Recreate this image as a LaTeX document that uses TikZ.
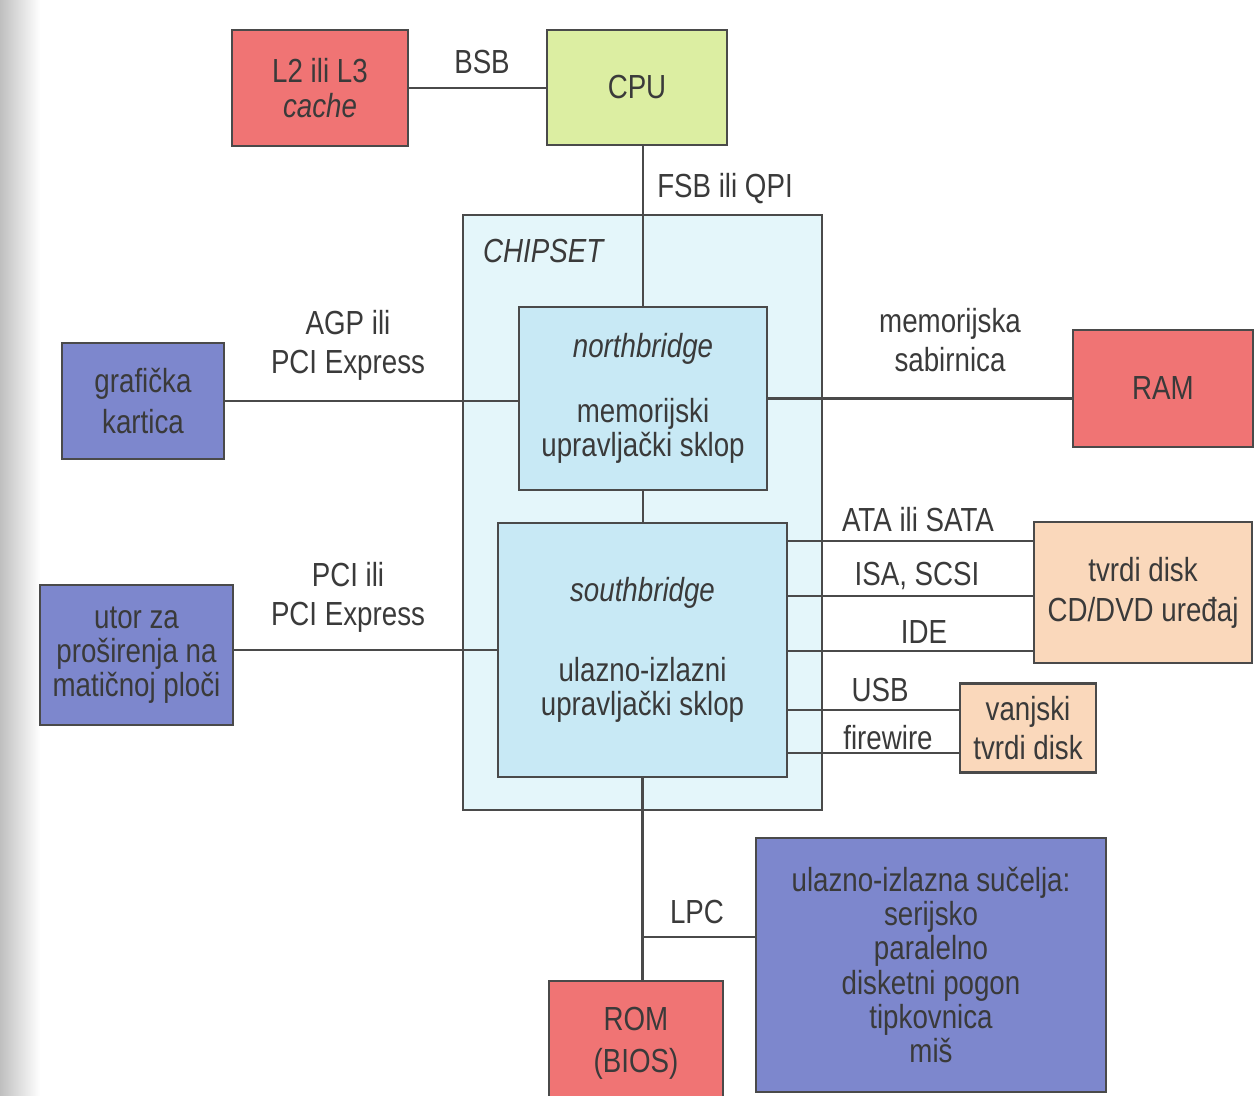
\documentclass[tikz,border=0pt]{standalone}
\usepackage{fontspec}
\setmainfont{Liberation Sans}[FakeStretch=0.83]

\definecolor{ink}{HTML}{3A3A3A}
\definecolor{rub}{HTML}{4A4A4A}
\definecolor{crvena}{HTML}{F07474}
\definecolor{zelena}{HTML}{DCEEA2}
\definecolor{plava}{HTML}{7D87CD}
\definecolor{cipset}{HTML}{E4F6FA}
\definecolor{most}{HTML}{C8E9F5}
\definecolor{breskva}{HTML}{FAD8BB}

\tikzset{
  blok/.style={draw=rub, line width=1.2pt, text=ink, align=center, inner sep=0pt,
    font=\fontsize{19}{19.5}\selectfont},
  sab/.style={draw=rub, line width=1.3pt},
  oznaka/.style={text=ink, align=center, inner sep=0pt, font=\fontsize{19}{19.5}\selectfont}
}

\begin{document}
\begin{tikzpicture}[x=0.2mm,y=-0.2mm]
\useasboundingbox (0,0) rectangle (1254,1095);
\shade[left color=black!25, right color=white] (0,0) rectangle (40,1095); % scan edge

% chipset frame first, everything else on top
\node[blok, fill=cipset, minimum width=71.8mm, minimum height=119mm] (chipset) at (642.5,512.5) {};
\node[oznaka, anchor=base] (chiplbl) at (544,262) {\textit{CHIPSET}};

\node[blok, fill=crvena, minimum width=35.2mm, minimum height=23.2mm] (cache) at (320,88) {L2 ili L3\\\textit{cache}};
\node[blok, fill=zelena, minimum width=36mm, minimum height=23mm] (cpu) at (637,87.5) {CPU};
\node[blok, fill=most, minimum width=49.6mm, minimum height=36.6mm] (nb) at (643,398.5)
  {\textit{northbridge}\\[6mm]memorijski\\upravljački sklop};
\node[blok, fill=most, minimum width=57.8mm, minimum height=50.8mm] (sb) at (642.5,650)
  {\textit{southbridge}\\[9mm]ulazno-izlazni\\upravljački sklop};
\node[blok, fill=plava, minimum width=32.4mm, minimum height=23.2mm] (gpu) at (143,401) {grafička\\[1.4mm]kartica};
\node[blok, fill=crvena, minimum width=36mm, minimum height=23.4mm] (ram) at (1163,388.5) {RAM};
\node[blok, fill=plava, minimum width=38.6mm, minimum height=28mm] (slot) at (136.5,655)
  {utor za\\proširenja na\\matičnoj ploči};
\node[blok, fill=breskva, minimum width=43.6mm, minimum height=28.2mm] (disk) at (1143,592.5)
  {tvrdi disk\\[1.2mm]CD/DVD uređaj};
\node[blok, fill=breskva, minimum width=27.2mm, minimum height=17.8mm] (ext) at (1028,728) {vanjski\\[1mm]tvrdi disk};
\node[blok, fill=crvena, minimum width=34.8mm, minimum height=24.8mm] (rom) at (636,1043) {ROM\\[1.6mm](BIOS)};
\node[blok, fill=plava, minimum width=70mm, minimum height=50.8mm] (io) at (931,965)
  {ulazno-izlazna sučelja:\\serijsko\\paralelno\\disketni pogon\\tipkovnica\\miš};

% buses
\draw[sab] (cache) -- (cache -| cpu.west);
\draw[sab] (nb.north) -- (nb.north |- cpu.south);
\draw[sab] (gpu) -- (gpu -| nb.west);
\draw[sab] (nb) -- (nb -| ram.west);
\draw[sab] (nb.south) -- (nb.south |- sb.north);
\draw[sab] (sb.west) -- (sb.west -| slot.east);
\foreach \y in {541,596,651} % ATA, ISA, IDE
  \draw[sab] (sb.east |- 0,\y) -- (disk.west |- 0,\y);
\foreach \y in {710,753} % USB, firewire
  \draw[sab] (sb.east |- 0,\y) -- (ext.west |- 0,\y);
\draw[sab] (sb.south) -- (sb.south |- rom.north);
\path (sb.south) ++(0,159) coordinate (lpc);
\draw[sab] (lpc) -- (lpc -| io.west);

% bus names
\node[oznaka, anchor=base] (bsb) at (482,73) {BSB};
\node[oznaka, anchor=base] (fsb) at (725,197) {FSB ili QPI};
\node[oznaka] (agp) at (348,345) {AGP ili\\[1mm]PCI Express};
\node[oznaka] (memsab) at (950,340) {memorijska\\[1mm]sabirnica};
\node[oznaka] (pci) at (348,597) {PCI ili\\[1mm]PCI Express};
\node[oznaka, anchor=base] (ata) at (918,531) {ATA ili SATA};
\node[oznaka, anchor=base] (isa) at (917,585) {ISA, SCSI};
\node[oznaka, anchor=base] (ide) at (924,643) {IDE};
\node[oznaka, anchor=base] (usb) at (880,701) {USB};
\node[oznaka, anchor=base] (fw) at (888,749) {firewire};
\node[oznaka, anchor=base] (lpclbl) at (697,923) {LPC};
\end{tikzpicture}
\end{document}
